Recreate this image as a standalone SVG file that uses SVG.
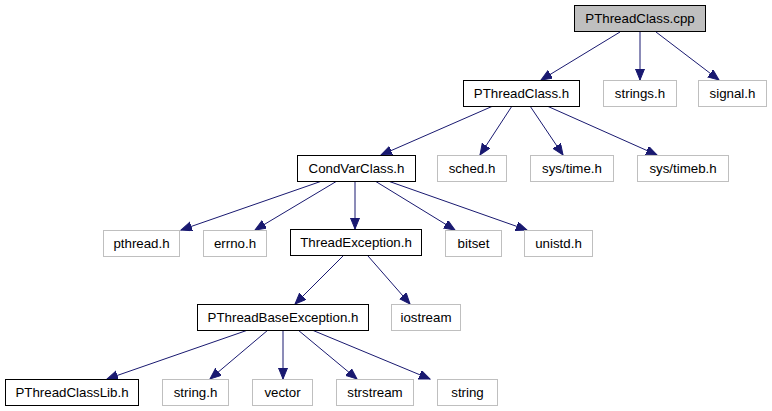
<svg xmlns="http://www.w3.org/2000/svg" width="772" height="411" viewBox="0 0 772 411">
<defs>
<style>
.n rect{fill:#fff;stroke:#000;stroke-width:1}
.x rect{fill:#fff;stroke:#bfbfbf;stroke-width:1}
.r rect{fill:#bfbfbf;stroke:#000;stroke-width:1}
text{font-family:"Liberation Sans",Arial,sans-serif;font-size:13.3px;fill:#000;text-anchor:middle}
#edges line{stroke:#191970;stroke-width:1;marker-end:url(#ah)}
</style>
<marker id="ah" markerUnits="userSpaceOnUse" markerWidth="12" markerHeight="10" refX="11" refY="4.5" orient="auto">
<path d="M0,0 L11,4.5 L0,9 Z" fill="#191970" stroke="#191970"/>
</marker>
</defs>
<rect width="772" height="411" fill="#fff"/>
<g id="edges">
<line x1="620" y1="32" x2="541" y2="80"/>
<line x1="640" y1="32" x2="640" y2="80"/>
<line x1="656" y1="32" x2="719" y2="80"/>
<line x1="493" y1="106" x2="381" y2="155"/>
<line x1="512" y1="106" x2="480" y2="155"/>
<line x1="530" y1="106" x2="563" y2="155"/>
<line x1="547" y1="106" x2="657" y2="155"/>
<line x1="322" y1="181" x2="181" y2="230"/>
<line x1="337" y1="181" x2="255" y2="230"/>
<line x1="355" y1="181" x2="355" y2="229"/>
<line x1="375" y1="181" x2="455" y2="230"/>
<line x1="388" y1="181" x2="527" y2="230"/>
<line x1="343" y1="256" x2="295" y2="304"/>
<line x1="368" y1="256" x2="410" y2="304"/>
<line x1="248" y1="330" x2="107" y2="379"/>
<line x1="268" y1="330" x2="210" y2="379"/>
<line x1="283" y1="330" x2="283" y2="379"/>
<line x1="298" y1="330" x2="357" y2="379"/>
<line x1="312" y1="330" x2="430" y2="379"/>
</g>
<g id="PThreadClass_cpp" class="r"><rect x="574.5" y="5.5" width="131" height="26"/><text x="640" y="23">PThreadClass.cpp</text></g>
<g id="PThreadClass_h" class="n"><rect x="463.5" y="80.5" width="116" height="26"/><text x="521.5" y="98">PThreadClass.h</text></g>
<g id="strings_h" class="x"><rect x="603.5" y="80.5" width="73" height="26"/><text x="640" y="98">strings.h</text></g>
<g id="signal_h" class="x"><rect x="698.5" y="80.5" width="68" height="26"/><text x="732.5" y="98">signal.h</text></g>
<g id="CondVarClass_h" class="n"><rect x="297.5" y="155.5" width="118" height="26"/><text x="356.5" y="173">CondVarClass.h</text></g>
<g id="sched_h" class="x"><rect x="437.5" y="155.5" width="69" height="26"/><text x="472" y="173">sched.h</text></g>
<g id="sys_time_h" class="x"><rect x="530.5" y="155.5" width="83" height="26"/><text x="572" y="173">sys/time.h</text></g>
<g id="sys_timeb_h" class="x"><rect x="637.5" y="155.5" width="91" height="26"/><text x="683" y="173">sys/timeb.h</text></g>
<g id="pthread_h" class="x"><rect x="103.5" y="230.5" width="76" height="26"/><text x="141.5" y="248">pthread.h</text></g>
<g id="errno_h" class="x"><rect x="203.5" y="230.5" width="63" height="26"/><text x="235" y="248">errno.h</text></g>
<g id="ThreadException_h" class="n"><rect x="290.5" y="229.5" width="131" height="26"/><text x="356" y="247">ThreadException.h</text></g>
<g id="bitset" class="x"><rect x="445.5" y="230.5" width="56" height="26"/><text x="473.5" y="248">bitset</text></g>
<g id="unistd_h" class="x"><rect x="524.5" y="230.5" width="68" height="26"/><text x="558.5" y="248">unistd.h</text></g>
<g id="PThreadBaseException_h" class="n"><rect x="197.5" y="304.5" width="171" height="26"/><text x="283" y="322">PThreadBaseException.h</text></g>
<g id="iostream" class="x"><rect x="391.5" y="304.5" width="69" height="26"/><text x="426" y="322">iostream</text></g>
<g id="PThreadClassLib_h" class="n"><rect x="5.5" y="379.5" width="133" height="26"/><text x="72" y="397">PThreadClassLib.h</text></g>
<g id="string_h" class="x"><rect x="162.5" y="379.5" width="66" height="26"/><text x="195.5" y="397">string.h</text></g>
<g id="vector" class="x"><rect x="252.5" y="379.5" width="60" height="26"/><text x="282.5" y="397">vector</text></g>
<g id="strstream" class="x"><rect x="336.5" y="379.5" width="77" height="26"/><text x="375" y="397">strstream</text></g>
<g id="string" class="x"><rect x="437.5" y="379.5" width="60" height="26"/><text x="467.5" y="397">string</text></g>
</svg>
